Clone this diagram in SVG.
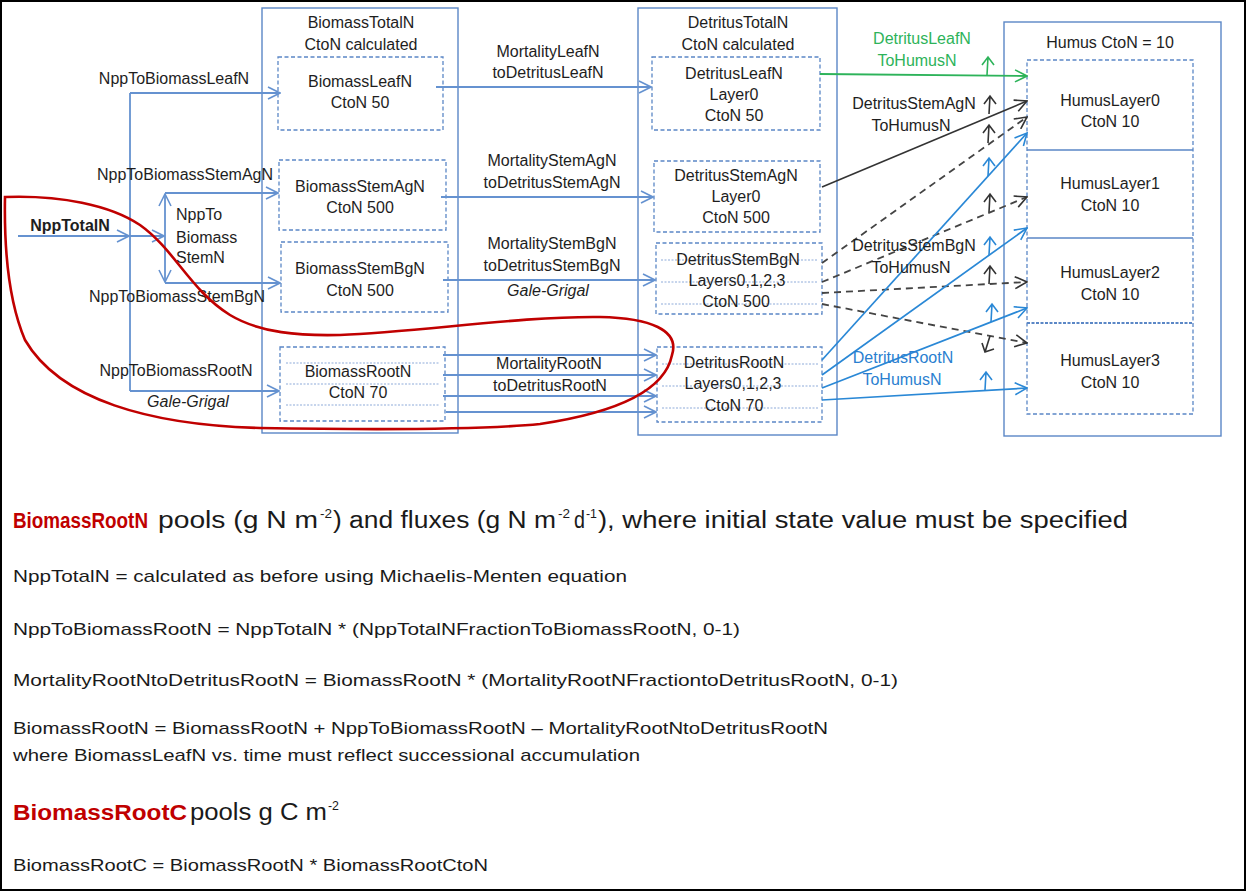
<svg xmlns="http://www.w3.org/2000/svg" width="1249" height="892" viewBox="0 0 1249 892">
<style>
.t{font-family:"Liberation Sans",Arial,sans-serif;font-size:16px;fill:#1e1e1e;text-anchor:middle}
.ti{font-style:italic}
.tg{fill:#2db35a}
.tb{fill:#2a7fd0}
.box{fill:none;stroke:#5b87c6;stroke-width:1.4}
.dbox{fill:none;stroke:#5b87c6;stroke-width:1.3;stroke-dasharray:4 2.5}
.dot{fill:none;stroke:#8eabd9;stroke-width:1;stroke-dasharray:2 1.5}
.fb{fill:none;stroke:#6592d0;stroke-width:1.8;marker-end:url(#mB)}
.fk{fill:none;stroke:#333;stroke-width:1.6;marker-end:url(#mK)}
.fd{fill:none;stroke:#444;stroke-width:1.8;stroke-dasharray:7 5;marker-end:url(#mK)}
.fc{fill:none;stroke:#2a88d6;stroke-width:1.7;marker-end:url(#mC)}
.fg{fill:none;stroke:#2db35a;stroke-width:1.8;marker-end:url(#mG)}
.b{font-family:"Liberation Sans",Arial,sans-serif;font-size:17px;fill:#1a1a1a}
.h{font-family:"Liberation Sans",Arial,sans-serif;font-size:23px;fill:#1a1a1a}
.red{fill:#c00000;font-weight:bold;font-size:22px}
.sup{font-family:"Liberation Sans",Arial,sans-serif;font-size:13px;fill:#1a1a1a}
</style>
<defs>
<marker id="mB" markerUnits="userSpaceOnUse" viewBox="0 0 14 14" refX="13" refY="7" markerWidth="14" markerHeight="14" orient="auto"><path d="M1,1 L13,7 L1,13" fill="none" stroke="#6592d0" stroke-width="1.6"/></marker>
<marker id="mK" markerUnits="userSpaceOnUse" viewBox="0 0 14 14" refX="13" refY="7" markerWidth="14" markerHeight="14" orient="auto"><path d="M1,1 L13,7 L1,13" fill="none" stroke="#333" stroke-width="1.6"/></marker>
<marker id="mC" markerUnits="userSpaceOnUse" viewBox="0 0 14 14" refX="13" refY="7" markerWidth="14" markerHeight="14" orient="auto"><path d="M1,1 L13,7 L1,13" fill="none" stroke="#2a88d6" stroke-width="1.6"/></marker>
<marker id="mG" markerUnits="userSpaceOnUse" viewBox="0 0 14 14" refX="13" refY="7" markerWidth="14" markerHeight="14" orient="auto"><path d="M1,1 L13,7 L1,13" fill="none" stroke="#2db35a" stroke-width="1.6"/></marker>
<path id="up" d="M0,0 L1,-18 M-5,-10 L1,-18 L7,-10" fill="none" stroke-width="1.6"/>
<path id="dn" d="M0,0 L-5,16 M-8,7 L-5,16 L4,13" fill="none" stroke-width="1.6"/>
</defs>

<rect x="1" y="1" width="1244" height="889" fill="#fff" stroke="#000" stroke-width="2"/>

<g id="biomassTotal">
<rect class="box" x="262" y="8" width="196" height="425"/>
<text class="t" x="361" y="28">BiomassTotalN</text>
<text class="t" x="361" y="50">CtoN  calculated</text>
</g>
<g id="biomassLeaf">
<rect class="dbox" x="278" y="57" width="165" height="73"/>
<text class="t" x="360" y="87">BiomassLeafN</text>
<text class="t" x="360" y="108">CtoN  50</text>
</g>
<g id="biomassStemAg">
<rect class="dbox" x="279" y="160" width="167" height="70"/>
<text class="t" x="360" y="192">BiomassStemAgN</text>
<text class="t" x="360" y="213">CtoN  500</text>
</g>
<g id="biomassStemBg">
<rect class="dbox" x="281" y="242" width="167" height="70"/>
<text class="t" x="360" y="274">BiomassStemBgN</text>
<text class="t" x="360" y="296">CtoN  500</text>
</g>
<g id="biomassRoot">
<rect class="dbox" x="280" y="347" width="165" height="74"/>
<path class="dot" d="M286,363 H440 M286,384 H440 M286,405 H440"/>
<text class="t" x="358" y="377">BiomassRootN</text>
<text class="t" x="358" y="398">CtoN  70</text>
</g>

<g id="detritusTotal">
<rect class="box" x="638" y="8" width="199" height="427"/>
<text class="t" x="738" y="28">DetritusTotalN</text>
<text class="t" x="738" y="50">CtoN  calculated</text>
</g>
<g id="detritusLeaf">
<rect class="dbox" x="652" y="57" width="168" height="73"/>
<text class="t" x="734" y="79">DetritusLeafN</text>
<text class="t" x="734" y="100">Layer0</text>
<text class="t" x="734" y="121">CtoN  50</text>
</g>
<g id="detritusStemAg">
<rect class="dbox" x="654" y="161" width="166" height="71"/>
<text class="t" x="736" y="181">DetritusStemAgN</text>
<text class="t" x="736" y="202">Layer0</text>
<text class="t" x="736" y="223">CtoN  500</text>
</g>
<g id="detritusStemBg">
<rect class="dbox" x="656" y="243" width="166" height="71"/>
<path class="dot" d="M661,260 H818 M661,282 H818 M661,304 H818"/>
<text class="t" x="738" y="265">DetritusStemBgN</text>
<text class="t" x="737" y="286">Layers0,1,2,3</text>
<text class="t" x="736" y="307">CtoN  500</text>
</g>
<g id="detritusRoot">
<rect class="dbox" x="657" y="347" width="165" height="75"/>
<path class="dot" d="M662,364 H818 M662,386 H818 M662,408 H818"/>
<text class="t" x="734" y="368">DetritusRootN</text>
<text class="t" x="733" y="389">Layers0,1,2,3</text>
<text class="t" x="734" y="411">CtoN  70</text>
</g>

<g id="humus">
<rect class="box" x="1004" y="22" width="217" height="414"/>
<text class="t" x="1110" y="48">Humus CtoN = 10</text>
<rect class="dbox" x="1027" y="60" width="166" height="354"/>
<path d="M1027,150 H1193 M1027,238 H1193" stroke="#5b87c6" stroke-width="1.3"/>
<path d="M1027,323 H1193" stroke="#5b87c6" stroke-width="2" stroke-dasharray="3 1.5"/>
</g>
<g id="humusLayer0">
<text class="t" x="1110" y="106">HumusLayer0</text>
<text class="t" x="1110" y="127">CtoN  10</text>
</g>
<g id="humusLayer1">
<text class="t" x="1110" y="189">HumusLayer1</text>
<text class="t" x="1110" y="211">CtoN 10</text>
</g>
<g id="humusLayer2">
<text class="t" x="1110" y="278">HumusLayer2</text>
<text class="t" x="1110" y="300">CtoN 10</text>
</g>
<g id="humusLayer3">
<text class="t" x="1110" y="366">HumusLayer3</text>
<text class="t" x="1110" y="388">CtoN 10</text>
</g>

<g id="connectors">
<path class="fb" d="M18,236 H129"/>
<path class="fb" d="M130,236 H164"/>
<path d="M130,93 V391" fill="none" stroke="#6592d0" stroke-width="1.8"/>
<path class="fb" d="M130,93 H280"/>
<path class="fb" d="M130,391 H279"/>
<path class="fb" d="M165,236 V194"/>
<path class="fb" d="M165,236 V282"/>
<path class="fb" d="M165,193 H278"/>
<path class="fb" d="M165,283 H280"/>
<path class="fb" d="M436,87 H651"/>
<path class="fb" d="M441,197 H653"/>
<path class="fb" d="M443,280 H655"/>
<path class="fb" d="M443,355 H656"/>
<path class="fb" d="M443,375 H656"/>
<path class="fb" d="M443,396 H656"/>
<path class="fb" d="M446,412 H656"/>
<path class="fg" d="M820,74 L1027,76"/>
<path class="fk" d="M822,187 L1027,101"/>
<path class="fd" d="M822,263 L1027,117"/>
<path class="fd" d="M822,282 L1027,197"/>
<path class="fd" d="M822,293 L1027,282"/>
<path class="fd" d="M822,304 L1027,343"/>
<path class="fc" d="M822,360 L1027,133"/>
<path class="fc" d="M822,375 L1027,228"/>
<path class="fc" d="M822,388 L1027,308"/>
<path class="fc" d="M822,400 L1027,388"/>
<use href="#up" x="987" y="75" stroke="#2db35a"/>
<use href="#up" x="989" y="114" stroke="#333"/>
<use href="#up" x="988" y="143" stroke="#333"/>
<use href="#up" x="988" y="176" stroke="#2a88d6"/>
<use href="#up" x="989" y="212" stroke="#333"/>
<use href="#up" x="989" y="255" stroke="#2a88d6"/>
<use href="#up" x="989" y="284" stroke="#333"/>
<use href="#up" x="991" y="322" stroke="#2a88d6"/>
<use href="#dn" x="990" y="336" stroke="#333"/>
<use href="#up" x="985" y="390" stroke="#2a88d6"/>
</g>

<g id="labels">
<text class="t" x="174" y="84">NppToBiomassLeafN</text>
<text class="t" x="185" y="180">NppToBiomassStemAgN</text>
<text class="t" x="70" y="231" font-weight="bold">NppTotalN</text>
<text class="t" x="176" y="220" style="text-anchor:start">NppTo</text>
<text class="t" x="176" y="243" style="text-anchor:start">Biomass</text>
<text class="t" x="176" y="263" style="text-anchor:start">StemN</text>
<text class="t" x="177" y="302">NppToBiomassStemBgN</text>
<text class="t" x="176" y="376">NppToBiomassRootN</text>
<text class="t ti" x="188" y="407">Gale-Grigal</text>
<text class="t" x="548" y="57">MortalityLeafN</text>
<text class="t" x="548" y="78">toDetritusLeafN</text>
<text class="t" x="552" y="166">MortalityStemAgN</text>
<text class="t" x="552" y="188">toDetritusStemAgN</text>
<text class="t" x="552" y="249">MortalityStemBgN</text>
<text class="t" x="552" y="271">toDetritusStemBgN</text>
<text class="t ti" x="548" y="296">Gale-Grigal</text>
<text class="t" x="549" y="369">MortalityRootN</text>
<text class="t" x="550" y="391">toDetritusRootN</text>
<text class="t tg" x="922" y="44">DetritusLeafN</text>
<text class="t tg" x="917" y="66">ToHumusN</text>
<text class="t" x="914" y="109">DetritusStemAgN</text>
<text class="t" x="911" y="131">ToHumusN</text>
<text class="t" x="914" y="251">DetritusStemBgN</text>
<text class="t" x="911" y="273">ToHumusN</text>
<text class="t tb" x="903" y="363">DetritusRootN</text>
<text class="t tb" x="902" y="385">ToHumusN</text>
</g>

<g id="highlight">
<path d="M5,197 C60,195 110,205 140,225 C175,250 190,290 230,315 C260,333 300,336 340,335 C420,332 520,316 600,317 C650,318 680,330 672,355 C665,390 620,412 540,424 C480,430 380,430 260,428 C150,425 60,400 25,340 C8,300 4,250 5,197 Z" fill="none" stroke="#c00000" stroke-width="2.6"/>
</g>

<g id="notes">
<text class="h red" x="13" y="528" textLength="135" lengthAdjust="spacingAndGlyphs">BiomassRootN</text>
<text class="h" x="158" y="528" textLength="160" lengthAdjust="spacingAndGlyphs">pools (g N m</text>
<text class="sup" x="320" y="518" textLength="12" lengthAdjust="spacingAndGlyphs">-2</text>
<text class="h" x="333" y="528" textLength="223" lengthAdjust="spacingAndGlyphs">) and fluxes (g N m</text>
<text class="sup" x="558" y="518" textLength="12" lengthAdjust="spacingAndGlyphs">-2</text>
<text class="h" x="574" y="528" textLength="11" lengthAdjust="spacingAndGlyphs">d</text>
<text class="sup" x="586" y="518" textLength="11" lengthAdjust="spacingAndGlyphs">-1</text>
<text class="h" x="598" y="528" textLength="530" lengthAdjust="spacingAndGlyphs">), where initial state value must be specified</text>
<text class="b" x="13" y="582" textLength="614" lengthAdjust="spacingAndGlyphs">NppTotalN = calculated as before using Michaelis-Menten equation</text>
<text class="b" x="13" y="635" textLength="727" lengthAdjust="spacingAndGlyphs">NppToBiomassRootN = NppTotalN *  (NppTotalNFractionToBiomassRootN, 0-1)</text>
<text class="b" x="13" y="686" textLength="885" lengthAdjust="spacingAndGlyphs">MortalityRootNtoDetritusRootN = BiomassRootN * (MortalityRootNFractiontoDetritusRootN, 0-1)</text>
<text class="b" x="13" y="734" textLength="815" lengthAdjust="spacingAndGlyphs">BiomassRootN = BiomassRootN + NppToBiomassRootN – MortalityRootNtoDetritusRootN</text>
<text class="b" x="13" y="761" textLength="627" lengthAdjust="spacingAndGlyphs">where  BiomassLeafN vs. time must reflect successional accumulation</text>
<text class="h red" x="13" y="820" textLength="174" lengthAdjust="spacingAndGlyphs">BiomassRootC</text>
<text class="h" x="190" y="820" textLength="137" lengthAdjust="spacingAndGlyphs">pools g C m</text>
<text class="sup" x="328" y="810" textLength="11" lengthAdjust="spacingAndGlyphs">-2</text>
<text class="b" x="13" y="871" textLength="475" lengthAdjust="spacingAndGlyphs">BiomassRootC = BiomassRootN  * BiomassRootCtoN</text>
</g>
</svg>
